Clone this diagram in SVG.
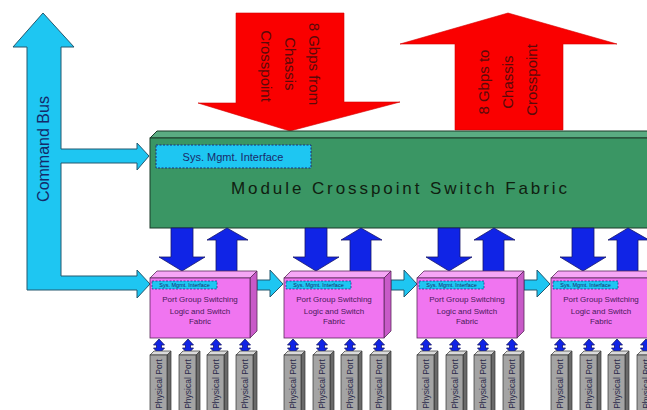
<svg xmlns="http://www.w3.org/2000/svg" width="647" height="410" viewBox="0 0 647 410">
  <style>
    text { font-family: "Liberation Sans", Arial, sans-serif; }
    .cyan { fill: #1ec6f2; stroke: #24586e; stroke-width: 1; }
    .blue { fill: #1024e6; stroke: #16166a; stroke-width: 0.8; }
    .red { fill: #fa0000; stroke: #d40000; stroke-width: 0.6; }
    .redtxt { font-size: 15px; fill: #5a0a0a; text-anchor: middle; }
    .pink-front { fill: #f075f0; stroke: #5a2a5a; stroke-width: 0.8; }
    .pink-top { fill: #f6a6f6; stroke: #5a2a5a; stroke-width: 0.8; }
    .pink-side { fill: #c85ac8; stroke: #5a2a5a; stroke-width: 0.8; }
    .pgtxt { font-size: 8px; fill: #4a1a5a; text-anchor: middle; }
    .smi { fill: #1ec6f2; stroke: #1a2a7a; stroke-dasharray: 2 1.5; }
    .smitxt { fill: #1a2a6a; text-anchor: middle; }
    .port-front { fill: #a4a4a4; stroke: #333; stroke-width: 0.7; }
    .port-top { fill: #dadada; stroke: #333; stroke-width: 0.7; }
    .port-side { fill: #6a6a6a; stroke: #333; stroke-width: 0.7; }
    .porttxt { font-size: 8.5px; fill: #2a2a4a; text-anchor: middle; }
  </style>
  <defs>
    <!-- small two-way link between a port group and a physical port -->
    <polygon id="link2" class="blue" points="0,339 5.5,345 2.5,345 2.5,348 5.5,348 0,354 -5.5,348 -2.5,348 -2.5,345 -5.5,345"/>
    <!-- physical port column, local origin at its left edge -->
    <g id="port">
      <polygon class="port-side" points="17,355 21,351 21,415 17,415"/>
      <polygon class="port-top" points="0,355 4,351 21,351 17,355"/>
      <rect class="port-front" x="0" y="355" width="17" height="60"/>
      <text class="porttxt" transform="translate(11.5,384) rotate(-90)">Physical Port</text>
    </g>
  </defs>

  <!-- chassis crosspoint data paths -->
  <g id="chassis-in">
    <polygon class="red" points="236,13 344,13 344,102 400,102 290,131 198,103 236,103"/>
    <text class="redtxt" transform="translate(290,66) rotate(90)">
      <tspan x="0" y="-19">8 Gbps from</tspan>
      <tspan x="0" y="5">Chassis</tspan>
      <tspan x="0" y="29">Crosspoint</tspan>
    </text>
  </g>
  <g id="chassis-out">
    <polygon class="red" points="455,130 455,44 400,44 508,13 617,44 563,44 563,130"/>
    <text class="redtxt" transform="translate(508,80) rotate(-90)">
      <tspan x="0" y="-19">8 Gbps to</tspan>
      <tspan x="0" y="5">Chassis</tspan>
      <tspan x="0" y="29">Crosspoint</tspan>
    </text>
  </g>

  <!-- module-level crosspoint fabric -->
  <g id="fabric">
    <polygon fill="#5aac82" stroke="#1a3a28" stroke-width="1" points="150,138 157,131 660,131 653,138"/>
    <rect x="150" y="138" width="510" height="90" fill="#3a9664" stroke="#1a3a28" stroke-width="1"/>
    <rect class="smi" x="156" y="145" width="155" height="23" stroke-width="1"/>
    <text class="smitxt" x="233" y="161" font-size="11px">Sys. Mgmt. Interface</text>
    <text x="231" y="194" font-size="17px" fill="#102010" textLength="336" lengthAdjust="spacing">Module Crosspoint Switch Fabric</text>
  </g>

  <!-- command bus and data links -->
  <g id="connectors">
    <g id="command-bus">
      <polygon class="cyan" points="27,290 27,47 13,47 43,13 74,47 61,47 61,149 137,149 137,143 149,156 137,170 137,163 61,163 61,276 137,276 137,270 150,284 137,298 137,290"/>
      <text transform="translate(49,149) rotate(-90)" font-size="16px" fill="#142a6a" text-anchor="middle">Command Bus</text>
    </g>
    <g class="blue">
      <polygon points="171,228 193,228 193,257 205,257 182,271 159,257 171,257"/>
      <polygon points="216,272 216,240 207,240 227,228 248,240 237,240 237,272"/>
      <polygon points="305,228 327,228 327,257 339,257 316,271 293,257 305,257"/>
      <polygon points="350,272 350,240 341,240 361,228 382,240 371,240 371,272"/>
      <polygon points="438,228 460,228 460,257 472,257 449,271 426,257 438,257"/>
      <polygon points="483,272 483,240 474,240 494,228 515,240 504,240 504,272"/>
      <polygon points="572,228 594,228 594,257 606,257 583,271 560,257 572,257"/>
      <polygon points="617,272 617,240 608,240 628,228 649,240 638,240 638,272"/>
    </g>
    <g class="cyan">
      <polygon points="257,280 270,280 270,270 283,284 270,297 270,290 257,290"/>
      <polygon points="391,280 404,280 404,270 417,284 404,297 404,290 391,290"/>
      <polygon points="524,280 537,280 537,270 550,284 537,297 537,290 524,290"/>
    </g>
    <g id="port-links">
      <use href="#link2" x="159"/><use href="#link2" x="188"/><use href="#link2" x="216"/><use href="#link2" x="245"/>
      <use href="#link2" x="293"/><use href="#link2" x="322"/><use href="#link2" x="350"/><use href="#link2" x="379"/>
      <use href="#link2" x="426"/><use href="#link2" x="455"/><use href="#link2" x="483"/><use href="#link2" x="512"/>
      <use href="#link2" x="560"/><use href="#link2" x="589"/><use href="#link2" x="617"/><use href="#link2" x="646"/>
    </g>
  </g>

  <!-- port group switching modules -->
  <g id="port-group-1" transform="translate(150,0)">
    <polygon class="pink-top" points="0,278 7,271 107,271 100,278"/>
    <polygon class="pink-side" points="100,278 107,271 107,331 100,338"/>
    <rect class="pink-front" x="0" y="278" width="100" height="60"/>
    <rect class="smi" x="2" y="281" width="65" height="8" stroke-width="0.7"/>
    <text class="smitxt" x="34.5" y="287.2" font-size="5.5px">Sys. Mgmt. Interface</text>
    <text class="pgtxt" x="50" y="302">Port Group Switching</text>
    <text class="pgtxt" x="50" y="313.5">Logic and Switch</text>
    <text class="pgtxt" x="50" y="324">Fabric</text>
    <use href="#port" x="0"/><use href="#port" x="29"/><use href="#port" x="57"/><use href="#port" x="86"/>
  </g>
  <g id="port-group-2" transform="translate(284,0)">
    <polygon class="pink-top" points="0,278 7,271 107,271 100,278"/>
    <polygon class="pink-side" points="100,278 107,271 107,331 100,338"/>
    <rect class="pink-front" x="0" y="278" width="100" height="60"/>
    <rect class="smi" x="2" y="281" width="65" height="8" stroke-width="0.7"/>
    <text class="smitxt" x="34.5" y="287.2" font-size="5.5px">Sys. Mgmt. Interface</text>
    <text class="pgtxt" x="50" y="302">Port Group Switching</text>
    <text class="pgtxt" x="50" y="313.5">Logic and Switch</text>
    <text class="pgtxt" x="50" y="324">Fabric</text>
    <use href="#port" x="0"/><use href="#port" x="29"/><use href="#port" x="57"/><use href="#port" x="86"/>
  </g>
  <g id="port-group-3" transform="translate(417,0)">
    <polygon class="pink-top" points="0,278 7,271 107,271 100,278"/>
    <polygon class="pink-side" points="100,278 107,271 107,331 100,338"/>
    <rect class="pink-front" x="0" y="278" width="100" height="60"/>
    <rect class="smi" x="2" y="281" width="65" height="8" stroke-width="0.7"/>
    <text class="smitxt" x="34.5" y="287.2" font-size="5.5px">Sys. Mgmt. Interface</text>
    <text class="pgtxt" x="50" y="302">Port Group Switching</text>
    <text class="pgtxt" x="50" y="313.5">Logic and Switch</text>
    <text class="pgtxt" x="50" y="324">Fabric</text>
    <use href="#port" x="0"/><use href="#port" x="29"/><use href="#port" x="57"/><use href="#port" x="86"/>
  </g>
  <g id="port-group-4" transform="translate(551,0)">
    <polygon class="pink-top" points="0,278 7,271 107,271 100,278"/>
    <polygon class="pink-side" points="100,278 107,271 107,331 100,338"/>
    <rect class="pink-front" x="0" y="278" width="100" height="60"/>
    <rect class="smi" x="2" y="281" width="65" height="8" stroke-width="0.7"/>
    <text class="smitxt" x="34.5" y="287.2" font-size="5.5px">Sys. Mgmt. Interface</text>
    <text class="pgtxt" x="50" y="302">Port Group Switching</text>
    <text class="pgtxt" x="50" y="313.5">Logic and Switch</text>
    <text class="pgtxt" x="50" y="324">Fabric</text>
    <use href="#port" x="0"/><use href="#port" x="29"/><use href="#port" x="57"/><use href="#port" x="86"/>
  </g>
</svg>
